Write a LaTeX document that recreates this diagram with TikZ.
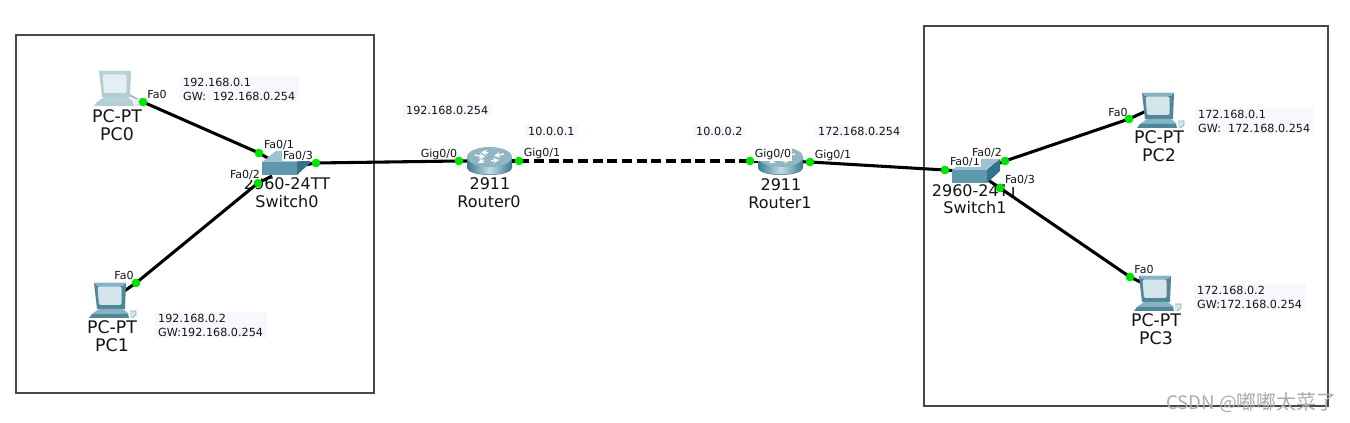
\documentclass[tikz,border=0pt]{standalone}
\usepackage{fontspec}
\setmainfont{DejaVu Sans}
\newfontfamily\cjk{Noto Sans CJK SC}
\definecolor{pcd}{HTML}{4F8698}
\definecolor{pcm}{HTML}{86B4C2}
\definecolor{pcs}{HTML}{D3E4EB}
\definecolor{anno}{HTML}{F7F8FE}
\definecolor{swf}{HTML}{5E97AC}
\definecolor{swt}{HTML}{9CC3CF}
\definecolor{swr}{HTML}{33738C}
\definecolor{rte}{HTML}{3F7F93}
\definecolor{rtl}{HTML}{C4DDE3}
\definecolor{rtt}{HTML}{8FB6C2}
\tikzset{
  frame/.style={draw=black!72,line width=0.8pt},
  link/.style={draw=black,line width=2.3pt},
  dashlink/.style={link,dash pattern=on 7.5pt off 3.5pt},
  cable/.style={draw=gray!60,line width=1.5pt},
  dot/.style={circle,fill=green!90!black,draw=none,inner sep=0,minimum size=6.4pt},
  dev/.style={inner sep=0,minimum size=1.5pt},
  devlabel/.style={font=\fontsize{12}{14}\selectfont,inner sep=0,text=black!92},
  pclabel/.style={devlabel,font=\fontsize{13}{15}\selectfont},
  port/.style={font=\fontsize{8.3}{9.5}\selectfont,inner sep=0.4pt,text=black!92},
  portw/.style={port,fill=white},
  anno/.style={font=\fontsize{8.4}{10.5}\selectfont,fill=anno,align=left,anchor=west,inner xsep=2.6pt,inner ysep=1.5pt,text=black!92},
  pcicon/.pic={
    \fill[pcd] (0,0)--(32,0)--(31,26)--(3,26)--cycle;
    \fill[pcm] (0,0)--(32,0)--(29,3)--(3,3)--cycle;
    \fill[pcs,rounded corners=1.1pt] (3.5,3.5)--(27.5,3.5)--(27.5,22)--(5,22)--cycle;
    \fill[pcm] (5,26)--(29,26)--(35,31)--(-2,31)--cycle;
    \fill[pcd] (-2,31)--(34,31)--(35,35)--(-5,35)--cycle;
    \fill[pcs] (36,28)--(42,28)--(42,32)--(38,35)--(36,35)--cycle;
    \draw[pcm,line width=0.6pt] (36,28)--(42,28)--(42,32)--(38,35);
  },
  swicon/.pic={
    \fill[swt] (0,10)--(14,-1)--(48,-1)--(35,10)--cycle;
    \fill[swf] (0,10) rectangle (35,23);
    \fill[swr] (35,10)--(48,-1)--(48,11)--(35,23)--cycle;
  },
  rticon/.pic={
    \fill[rte] (0,10) -- (0,21) arc[start angle=180,end angle=0,x radius=22.5,y radius=7] -- (45,10) -- cycle;
    \shade[left color=rte,right color=rte,middle color=rtl] (1,11) -- (1,21) arc[start angle=180,end angle=0,x radius=21.5,y radius=6.5] -- (44,11) -- cycle;
    \fill[rtt] (22.5,10) ellipse[x radius=22.5,y radius=10];
    \draw[white,line width=1pt,-stealth] (8,8)--(18,10);
    \draw[white,line width=1pt,-stealth] (37,7)--(27,9);
    \draw[white,line width=1pt,-stealth] (24,14)--(32,13);
    \draw[white,line width=1pt,-stealth] (21,6)--(14,5);
    \draw[white,line width=1pt,-stealth] (17,13)--(11,16);
  }
}
\begin{document}
\begin{tikzpicture}[x=0.75pt,y=-0.75pt]
\useasboundingbox (0,0) rectangle (1350,423);
\fill[white] (0,0) rectangle (1350,423);
% frames
\node[dev] (f1a) at (16,35) {}; \node[dev] (f1b) at (374,393) {};
\node[dev] (f2a) at (924,26) {}; \node[dev] (f2b) at (1328,406) {};
\draw[frame] (f1a.center) rectangle (f1b.center);
\draw[frame] (f2a.center) rectangle (f2b.center);
% annotations
\node[anno] (a1) at (179.5,89) {192.168.0.1\\GW:\ \ 192.168.0.254};
\node[anno] (a2) at (402.5,110) {192.168.0.254};
\node[anno] (a3) at (524.5,131) {10.0.0.1};
\node[anno] (a4) at (692.5,131) {10.0.0.2};
\node[anno] (a5) at (814.5,131) {172.168.0.254};
\node[anno] (a6) at (154.5,325) {192.168.0.2\\GW:192.168.0.254};
\node[anno] (a7) at (1194.5,121) {172.168.0.1\\GW:\ \ 172.168.0.254};
\node[anno] (a8) at (1193.5,297) {172.168.0.2\\GW:172.168.0.254};
% device labels
\node[pclabel] (l0a) at (117,116) {PC-PT}; \node[pclabel] (l0b) at (117,134) {PC0};
\node[pclabel] (l1a) at (112,327) {PC-PT}; \node[pclabel] (l1b) at (112,345) {PC1};
\node[pclabel] (l2a) at (1159,137) {PC-PT}; \node[pclabel] (l2b) at (1159,155) {PC2};
\node[pclabel] (l3a) at (1156,320) {PC-PT}; \node[pclabel] (l3b) at (1156,338) {PC3};
\node[devlabel] (l4a) at (287,184) {2960-24TT}; \node[devlabel] (l4b) at (287,202) {Switch0};
\node[devlabel] (l5a) at (975,191) {2960-24TT}; \node[devlabel] (l5b) at (975,208) {Switch1};
\node[devlabel] (l6a) at (490,184) {2911}; \node[devlabel] (l6b) at (489,202) {Router0};
\node[devlabel] (l7a) at (781,185) {2911}; \node[devlabel] (l7b) at (780,203) {Router1};
% device anchors
\node[dev] (pc0) at (115,88) {};
\node[dev] (pc1) at (111,300) {};
\node[dev] (pc2) at (1157,106) {};
\node[dev] (pc3) at (1155,289) {};
\node[dev] (sw0) at (285,168) {};
\node[dev] (sw1) at (975,172) {};
\node[dev] (r0) at (490,161) {};
\node[dev] (r1) at (781,161) {};
% ports
\node[dot] (p0) at (143,102) {};
\node[dot] (p1) at (136,283) {};
\node[dot] (p2) at (1129,119) {};
\node[dot] (p3) at (1130,277) {};
\node[dot] (s01) at (259,153) {};
\node[dot] (s02) at (258,183) {};
\node[dot] (s03) at (316,163) {};
\node[dot] (g00) at (459,161) {};
\node[dot] (g01) at (519,161) {};
\node[dot] (h00) at (750,161) {};
\node[dot] (h01) at (810,162) {};
\node[dot] (s11) at (945,170) {};
\node[dot] (s12) at (1005,161) {};
\node[dot] (s13) at (1000,188) {};
\node[dev] (s02end) at (272,176) {};
\node[dev] (s13end) at (988,180) {};
% links
\draw[cable] (pc0.center) -- (p0.center);
\draw[link] (p0.center) -- (s01.center) -- (sw0.center);
\draw[link] (pc1.center) -- (p1.center) -- (s02.center) -- (s02end.center);
\draw[link] (sw0.center) -- (s03.center) -- (g00.center) -- (r0.center);
\draw[dashlink] (r0.center) -- (g01.center) -- (h00.center) -- (r1.center);
\draw[link] (r1.center) -- (h01.center) -- (s11.center) -- (sw1.center);
\draw[link] (sw1.center) -- (s12.center) -- (p2.center) -- (pc2.center);
\draw[link] (s13end.center) -- (s13.center) -- (p3.center) -- (pc3.center);
% icons
\begin{scope}
\colorlet{pcd}{pcd!42!white}\colorlet{pcm}{pcm!60!white}\colorlet{pcs}{pcs!60!white}
\pic at (99,71) {pcicon};
\end{scope}
\pic at (94,283) {pcicon};
\pic at (1142,93) {pcicon};
\pic at (1139,276) {pcicon};
\pic at (262,152) {swicon};
\pic at (952,160) {swicon};
\pic at (467,147) {rticon};
\pic at (758,147) {rticon};
% port labels
\node[port] (t0) at (157,94) {Fa0};
\node[port] (t1) at (124,275) {Fa0};
\node[port] (t2) at (1118,112) {Fa0};
\node[port] (t3) at (1144,269) {Fa0};
\node[port] (t4) at (279,145) {Fa0/1};
\node[portw] (t5) at (298,156) {Fa0/3};
\node[portw] (t6) at (245,175) {Fa0/2};
\node[port] (t7) at (439,154) {Gig0/0};
\node[port] (t8) at (542,153) {Gig0/1};
\node[portw,inner ysep=1.5pt] (t9) at (773,154) {Gig0/0};
\node[port] (t10) at (833,155) {Gig0/1};
\node[portw] (t11) at (965,162) {Fa0/1};
\node[portw] (t12) at (987,153) {Fa0/2};
\node[portw,inner ysep=2pt] (t13) at (1020,180) {Fa0/3};
% dots above icons and labels
\foreach \n in {p0,p1,p2,p3,s01,s02,s03,g00,g01,h00,h01,s11,s12,s13}
  \fill[green!90!black] (\n) circle[radius=4.2];
% watermark
\node[inner sep=0,text=gray!65,anchor=east,font=\cjk\fontsize{15}{17}\selectfont] (wm) at (1337,403) {{\fontsize{14}{17}\selectfont CSDN @}嘟嘟太菜了};
\end{tikzpicture}
\end{document}
